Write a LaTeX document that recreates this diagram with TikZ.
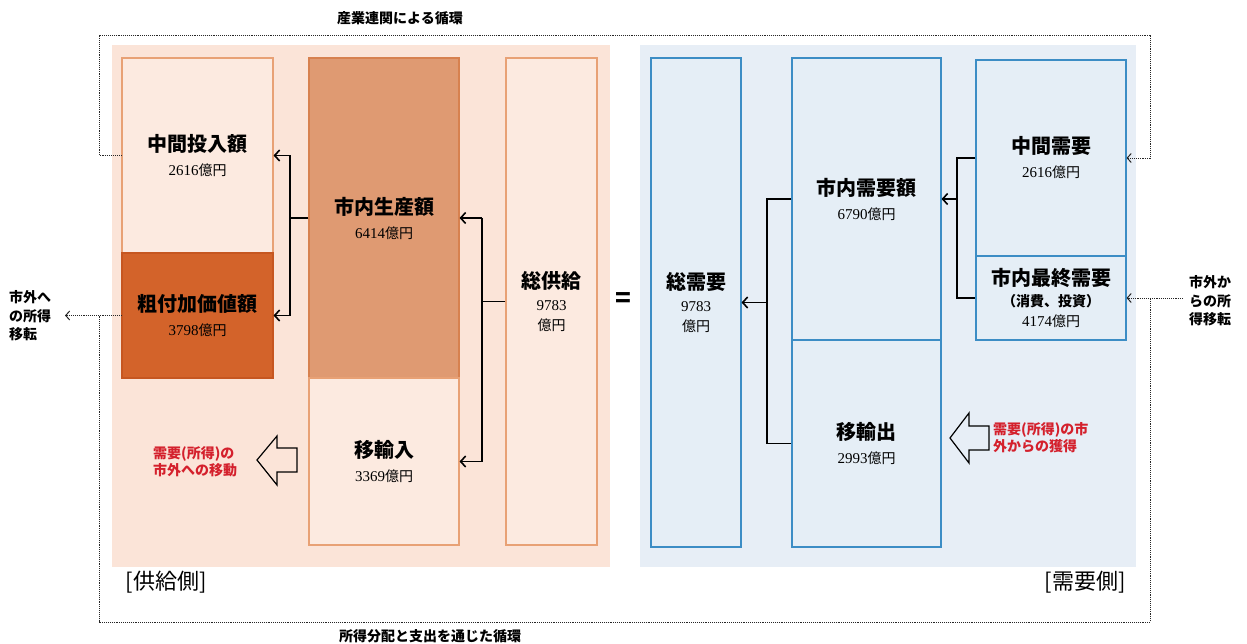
\documentclass[tikz,border=0pt]{standalone}
\usepackage{fontspec}
\setmainfont{Noto Sans CJK JP}
\newfontfamily\numf{Liberation Serif}
\usetikzlibrary{arrows.meta}
\definecolor{panelL}{HTML}{FBE4D8}
\definecolor{panelR}{HTML}{E7EEF6}
\definecolor{lightO}{HTML}{FCEAE0}
\definecolor{lineO}{HTML}{E8A175}
\definecolor{darkO}{HTML}{D3632A}
\definecolor{darkOline}{HTML}{C65620}
\definecolor{midO}{HTML}{DF9A72}
\definecolor{midOline}{HTML}{D7814F}
\definecolor{lightB}{HTML}{E5EEF6}
\definecolor{lineB}{HTML}{3C8DC5}
\definecolor{redT}{HTML}{D4202C}
\newcommand{\ttl}[1]{{\fontsize{20}{22}\selectfont\bfseries #1}}
\newcommand{\amtx}[1]{{\fontsize{14}{16}\selectfont{\numf\fontsize{15}{16}\selectfont #1}億円}}
\newcommand{\numx}[1]{{\numf\fontsize{15}{16}\selectfont #1}}
\begin{document}
\begin{tikzpicture}[x=1pt,y=-1pt,
  bx/.style={line width=1.1pt,align=center,inner sep=0pt,font=\fontsize{14}{24}\selectfont},
  boxO/.style={bx,draw=lineO,fill=lightO},
  boxD/.style={bx,draw=darkOline,fill=darkO},
  boxM/.style={bx,draw=midOline,fill=midO},
  boxB/.style={bx,draw=lineB,fill=lightB},
  conn/.style={line width=1.8pt,black},
  arr/.style={conn,-{Straight Barb[length=5pt,width=11pt,line width=1.6pt]}},
  dots/.style={densely dotted,line width=0.9pt,black!85},
  darr/.style={dots,-{Straight Barb[length=4pt,width=9pt,line width=1pt]}},
  side/.style={font=\fontsize{14}{18.5}\selectfont\bfseries,align=left,inner sep=0pt},
  redlab/.style={font=\fontsize{14}{17}\selectfont\bfseries,text=redT,align=left,inner sep=0pt},
  hollow/.style={draw=black,line width=1.2pt,line join=miter}
]
\useasboundingbox (0,0) rectangle (1247,644);
% panels
\fill[panelL] (112,45) rectangle (610,567);
\fill[panelR] (640,45) rectangle (1136,567);
% supply side boxes
\node[boxO,minimum width=151pt,minimum height=195pt] (ci) at (197.5,155.5) {\ttl{中間投入額}\\\amtx{2616}};
\node[boxD,minimum width=151pt,minimum height=125pt] (va) at (197.5,315.5) {\ttl{粗付加価値額}\\\amtx{3798}};
\node[boxM,minimum width=150pt,minimum height=320pt] (sn) at (384,218) {\ttl{市内生産額}\\\amtx{6414}};
\node[boxO,minimum width=150pt,minimum height=167pt] (im) at (384,461.5) {\ttl{移輸入}\\\amtx{3369}};
\node[boxO,minimum width=91pt,minimum height=487pt] (ts) at (551.5,301.5) {\ttl{総供給}\\[-2pt]\numx{9783}\\[-4pt]億円};
\node[font=\fontsize{26}{26}\selectfont\bfseries,inner sep=0pt] (eq) at (623,300) {=};
% demand side boxes
\node[boxB,minimum width=90pt,minimum height=489pt] (td) at (696,302.5) {\ttl{総需要}\\[-2pt]\numx{9783}\\[-4pt]億円};
\node[boxB,minimum width=149pt,minimum height=282pt] (dd) at (866.5,199) {\ttl{市内需要額}\\\amtx{6790}};
\node[boxB,minimum width=149pt,minimum height=207pt] (ex) at (866.5,443.5) {\ttl{移輸出}\\\amtx{2993}};
\node[boxB,minimum width=150pt,minimum height=196pt] (md) at (1051,158) {\ttl{中間需要}\\\amtx{2616}};
\node[boxB,minimum width=150pt,minimum height=84pt] (fd) at (1051,298) {\ttl{市内最終需要}\\[-3pt]{\bfseries （消費、投資）}\\[-4pt]\amtx{4174}};
% connectors supply side
\coordinate (j1) at (290,0);
\draw[conn] (sn.west) -- (sn.west -| j1);
\draw[conn] (ci.east -| j1) -- (va.east -| j1);
\draw[arr] (ci.east -| j1) -- (ci.east);
\draw[arr] (va.east -| j1) -- (va.east);
\coordinate (j2) at (482,0);
\draw[conn] (ts.west) -- (ts.west -| j2);
\draw[conn] (sn.east -| j2) -- (im.east -| j2);
\draw[arr] (sn.east -| j2) -- (sn.east);
\draw[arr] (im.east -| j2) -- (im.east);
% connectors demand side
\coordinate (j3) at (957,0);
\draw[conn] (md.west) -- (md.west -| j3) -- (fd.west -| j3) -- (fd.west);
\draw[arr] (dd.east -| j3) -- (dd.east);
\coordinate (j4) at (767,0);
\draw[conn] (dd.west) -- (dd.west -| j4) -- (ex.west -| j4) -- (ex.west);
\draw[arr] (td.east -| j4) -- (td.east);
% loops
\coordinate (lx) at (99,0);
\coordinate (rx) at (1150,0);
\coordinate (ty) at (0,35);
\coordinate (by) at (0,622);
\draw[dots] (ci.west) -- (ci.west -| lx) -- (lx |- ty) -- (rx |- ty) -- (rx |- md.east);
\draw[darr] (rx |- md.east) -- (md.east);
\node[side,anchor=west] (lt) at (9,316) {市外へ\\の所得\\移転};
\node[side,anchor=west] (rt) at (1189,301) {市外か\\らの所\\得移転};
\coordinate (ls) at (65,0);
\draw[darr] (va.west) -- (ls |- va.west);
\draw[dots] (va.west -| lx) -- (lx |- by) -- (rx |- by) -- (rx |- fd.east);
\coordinate (rs) at (1183,0);
\draw[darr] (rs |- fd.east) -- (fd.east);
% labels
\node[font=\fontsize{14}{14}\selectfont\bfseries] (toplab) at (400,18) {産業連関による循環};
\node[font=\fontsize{14}{14}\selectfont\bfseries] (botlab) at (430,636) {所得分配と支出を通じた循環};
\node[font=\fontsize{22}{22}\selectfont] (sup) at (166,582) {[供給側]};
\node[font=\fontsize{22}{22}\selectfont] (dem) at (1085,582) {[需要側]};
% red labels and hollow arrows
\node[redlab,anchor=west] (rl) at (153,462) {需要(所得)の\\市外への移動};
\draw[hollow] (257,460) -- (277,436) -- (277,448) -- (297,448) -- (297,472) -- (277,472) -- (277,485) -- cycle;
\node[redlab,anchor=west] (rr) at (993,438) {需要(所得)の市\\外からの獲得};
\draw[hollow] (950,438) -- (969,413) -- (969,426) -- (989,426) -- (989,450) -- (969,450) -- (969,463) -- cycle;
\end{tikzpicture}
\end{document}
